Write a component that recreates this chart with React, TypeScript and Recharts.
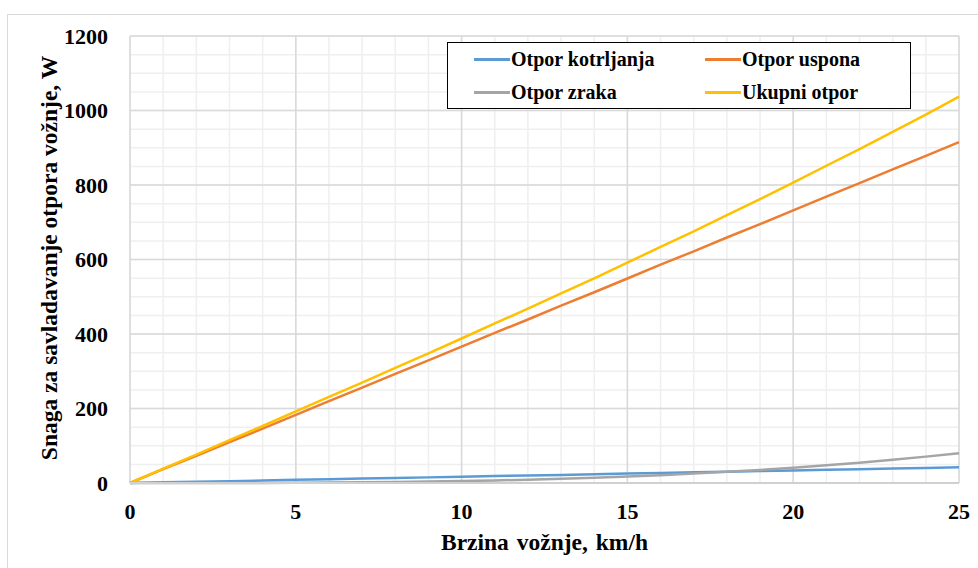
import React from 'react'
import { LineChart, Line, XAxis, YAxis, CartesianGrid, Legend, Label } from 'recharts'

const speeds = [0, 1, 2, 3, 4, 5, 6, 7, 8, 9, 10, 11, 12, 13, 14, 15, 16, 17, 18, 19, 20, 21, 22, 23, 24, 25]
const rolling = [0, 1.7, 3.4, 5.0, 6.7, 8.4, 10.1, 11.8, 13.4, 15.1, 16.8, 18.5, 20.2, 21.8, 23.5, 25.2, 26.9, 28.6, 30.2, 31.9, 33.6, 35.3, 37.0, 38.6, 40.3, 42.0]
const climbing = [0, 37, 73, 110, 146, 183, 220, 256, 293, 329, 366, 403, 439, 476, 512, 549, 586, 622, 659, 695, 732, 769, 805, 842, 878, 915]
const air = [0, 0.0, 0.04, 0.14, 0.33, 0.64, 1.1, 1.8, 2.6, 3.7, 5.1, 6.8, 8.9, 11.3, 14.1, 17.3, 21.0, 25.2, 29.9, 35.1, 41.0, 47.4, 54.5, 62.3, 70.8, 80.0]
const total = [0, 38.7, 76.4, 115.1, 153.0, 192.0, 231.2, 269.6, 309.0, 347.8, 387.9, 428.3, 468.1, 509.1, 549.6, 591.5, 633.9, 675.8, 719.1, 762.0, 806.6, 851.7, 896.5, 942.9, 989.1, 1037.0]

const xTicks = [0, 5, 10, 15, 20, 25]
const yTicks = [0, 200, 400, 600, 800, 1000, 1200]
const xMinor = [0, 1, 2, 3, 4, 5, 6, 7, 8, 9, 10, 11, 12, 13, 14, 15, 16, 17, 18, 19, 20, 21, 22, 23, 24, 25]
const yMinor = [0, 50, 100, 150, 200, 250, 300, 350, 400, 450, 500, 550, 600, 650, 700, 750, 800, 850, 900, 950, 1000, 1050, 1100, 1150, 1200]

const series = [
  { key: 'rolling', name: 'Otpor kotrljanja', color: '#5B9BD5' },
  { key: 'climbing', name: 'Otpor uspona', color: '#ED7D31' },
  { key: 'air', name: 'Otpor zraka', color: '#A5A5A5' },
  { key: 'total', name: 'Ukupni otpor', color: '#FFC000' },
]

const data = speeds.map((x, i) => ({
  x,
  rolling: rolling[i],
  climbing: climbing[i],
  air: air[i],
  total: total[i],
}))

const FONT = '"Liberation Serif", "Times New Roman", serif'
const tickStyle = { fontFamily: FONT, fontSize: 22, fontWeight: 700, fill: '#000' }
const titleStyle = { fontFamily: FONT, fontSize: 23.5, fontWeight: 700 }

function LegendBox({ payload }: any) {
  return (
    <div
      style={{
        border: '1.5px solid #000',
        background: '#fff',
        height: 67,
        boxSizing: 'border-box',
        display: 'grid',
        gridTemplateColumns: '231px 231px',
        gridAutoRows: '33px',
        paddingLeft: 26,
        fontFamily: FONT,
        fontSize: 20,
        fontWeight: 700,
        color: '#000',
      }}
    >
      {(payload || []).map((p: any) => (
        <div key={p.value} style={{ display: 'flex', alignItems: 'center' }}>
          <span style={{ display: 'inline-block', width: 36, height: 2.5, background: p.color, marginRight: 1 }} />
          <span>{p.value}</span>
        </div>
      ))}
    </div>
  )
}

export default function App() {
  return (
    <div style={{ position: 'fixed', left: 0, top: 0, width: 978, height: 568, overflow: 'hidden', background: '#fff' }}>
      <div
        style={{
          position: 'absolute',
          left: 7,
          top: 14,
          width: 1000,
          height: 600,
          borderLeft: '1px solid #d9d9d9',
          borderTop: '1px solid #d9d9d9',
        }}
      />
      <div style={{ position: 'absolute', left: 0, top: 0 }}>
        <LineChart width={978} height={568} data={data} margin={{ top: 36, right: 19, bottom: 25, left: 30 }}>
          <CartesianGrid stroke="#efefef" strokeWidth={1.5} verticalValues={xMinor} horizontalValues={yMinor} />
          <CartesianGrid stroke="#d9d9d9" strokeWidth={1.5} verticalValues={xTicks} horizontalValues={yTicks} />
          <XAxis
            dataKey="x"
            type="number"
            domain={[0, 25]}
            ticks={xTicks}
            interval={0}
            height={60}
            axisLine={{ stroke: '#d0d0d0', strokeWidth: 2 }}
            tickLine={false}
            tickSize={0}
            tickMargin={20}
            tick={tickStyle}
          >
            <Label
              content={({ viewBox }: any) => (
                <text
                  x={viewBox.x + viewBox.width / 2}
                  y={550}
                  textAnchor="middle"
                  style={{ ...titleStyle, wordSpacing: 2 }}
                  fill="#000"
                >
                  Brzina vožnje, km/h
                </text>
              )}
            />
          </XAxis>
          <YAxis
            type="number"
            domain={[0, 1200]}
            ticks={yTicks}
            interval={0}
            width={100}
            axisLine={false}
            tickLine={false}
            tickSize={0}
            tickMargin={22}
            tick={tickStyle}
          >
            <Label
              content={() => (
                <text
                  x={57}
                  y={258}
                  transform="rotate(-90, 57, 258)"
                  textAnchor="middle"
                  style={titleStyle}
                  fill="#000"
                >
                  Snaga za savladavanje otpora vožnje, W
                </text>
              )}
            />
          </YAxis>
          <Legend
            layout="horizontal"
            verticalAlign="middle"
            align="center"
            wrapperStyle={{ left: 447, top: 42, width: 464 }}
            content={LegendBox}
          />
          {series.map((s) => (
            <Line
              key={s.key}
              type="linear"
              dataKey={s.key}
              name={s.name}
              stroke={s.color}
              strokeWidth={2.5}
              dot={false}
              isAnimationActive={false}
            />
          ))}
        </LineChart>
      </div>
    </div>
  )
}
